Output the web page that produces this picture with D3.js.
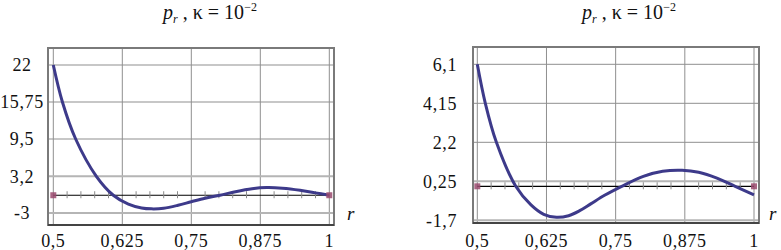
<!DOCTYPE html>
<html>
<head>
<meta charset="utf-8">
<script src="https://cdn.jsdelivr.net/npm/d3@7"></script>
<style>
  body { margin: 0; background: #fff; }
  text { font-family: "Liberation Serif", "Times New Roman", serif; fill: #111; }
  .tick-label { font-size: 18px; letter-spacing: 0.6px; }
</style>
</head>
<body>
<svg id="chart" width="781" height="250"></svg>
<script>
// data
var xTicks = [0.5, 0.625, 0.75, 0.875, 1];
var xMinor = [0.525, 0.55, 0.575, 0.6, 0.65, 0.675, 0.7, 0.725, 0.775, 0.8, 0.825, 0.85, 0.9, 0.925, 0.95, 0.975];

var yTicksLeft = [-3, 3.2, 9.5, 15.75, 22];
var rLeft = [0.5, 0.5165, 0.5405, 0.578, 0.6087, 0.636, 0.66, 0.678, 0.70, 0.726, 0.75, 0.775, 0.802, 0.83, 0.86, 0.8866, 0.915, 0.947, 0.975, 1.0];
var pLeft = [22, 15.75, 9.5, 3.2, 0, -1.5, -2.15, -2.3, -2.2, -1.7, -1.1, -0.5, 0, 0.6, 1.1, 1.3, 1.2, 0.85, 0.4, 0];

var yTicksRight = [-1.7, 0.25, 2.2, 4.15, 6.1];
var rRight = [0.5, 0.5145, 0.5345, 0.5695, 0.597, 0.62, 0.643, 0.665, 0.685, 0.705, 0.73, 0.761, 0.8, 0.835, 0.87, 0.9, 0.933, 0.966, 1.0];
var pRight = [6.1, 4.15, 2.2, 0, -0.93, -1.4, -1.55, -1.47, -1.22, -0.88, -0.45, 0, 0.5, 0.75, 0.8, 0.7, 0.41, 0, -0.43];

var endPoints = [0.5, 1];

var svg = d3.select("#chart");
var fmt = function(d) { return String(d).replace(".", ","); };

var panel = function(cfg) {
    var x = d3.scaleLinear().domain([0.5, 1]).range(cfg.xr);
    var y = d3.scaleLinear().domain([cfg.yt[0], cfg.yt[cfg.yt.length - 1]]).range(cfg.yr);
    var f = cfg.frame; // left, top, right, bottom
    var g = svg.append("g");

    // grid
    g.selectAll(".vgrid").data(xTicks).enter().append("line")
        .attr("x1", function(d) { return x(d); }).attr("x2", function(d) { return x(d); })
        .attr("y1", f[1]).attr("y2", f[3])
        .attr("stroke", "#8f8f8f").attr("stroke-width", 1);
    g.selectAll(".hgrid").data(cfg.yt).enter().append("line")
        .attr("x1", f[0]).attr("x2", f[2])
        .attr("y1", function(d) { return y(d); }).attr("y2", function(d) { return y(d); })
        .attr("stroke", function(d, i) { return i < 2 ? "#b5b5b5" : "#8f8f8f"; })
        .attr("stroke-width", function(d, i) { return i < 2 ? 2 : 1; });

    // frame
    g.append("rect")
        .attr("x", f[0]).attr("y", f[1])
        .attr("width", f[2] - f[0]).attr("height", f[3] - f[1])
        .attr("fill", "none").attr("stroke", "#7a7a7a").attr("stroke-width", 2);
    g.append("line")
        .attr("x1", f[0]).attr("x2", f[2]).attr("y1", f[3]).attr("y2", f[3])
        .attr("stroke", "#333").attr("stroke-width", 1.5);

    // zero axis with minor ticks
    g.append("line")
        .attr("x1", x(0.5)).attr("x2", x(1)).attr("y1", y(0)).attr("y2", y(0))
        .attr("stroke", "#000").attr("stroke-width", 1.2);
    g.selectAll(".minor").data(xMinor).enter().append("line")
        .attr("x1", function(d) { return x(d); }).attr("x2", function(d) { return x(d); })
        .attr("y1", y(0) - 4).attr("y2", y(0) + 3)
        .attr("stroke", "#8a8a8a").attr("stroke-width", 1);

    // curve
    var line = d3.line()
        .x(function(d) { return x(d[0]); })
        .y(function(d) { return y(d[1]); })
        .curve(d3.curveCatmullRom.alpha(0.5));
    g.append("path")
        .datum(d3.zip(cfg.r, cfg.p))
        .attr("d", line)
        .attr("fill", "none")
        .attr("stroke", "#3d3a8a")
        .attr("stroke-width", 3);

    // end markers
    g.selectAll(".mark").data(endPoints).enter().append("rect")
        .attr("x", function(d) { return x(d) - 3; })
        .attr("y", y(0) - 3)
        .attr("width", 6).attr("height", 6)
        .attr("fill", "#9a4a6e").attr("opacity", 0.85);

    // tick labels
    g.selectAll(".xl").data(xTicks).enter().append("text")
        .attr("class", "tick-label")
        .attr("x", function(d) { return x(d); })
        .attr("y", 247)
        .attr("text-anchor", "middle")
        .text(fmt);
    g.selectAll(".yl").data(cfg.yt).enter().append("text")
        .attr("class", "tick-label")
        .attr("x", cfg.ylabX)
        .attr("y", function(d) { return y(d); })
        .attr("dy", "0.35em")
        .attr("text-anchor", cfg.ylabAnchor)
        .text(fmt);

    // axis name
    g.append("text")
        .attr("x", cfg.rx).attr("y", 220)
        .attr("font-style", "italic").attr("font-size", 19)
        .text("r");

    // title
    var t = g.append("text")
        .attr("x", cfg.tx).attr("y", 19)
        .attr("text-anchor", "middle")
        .attr("font-size", 20);
    t.append("tspan").attr("font-style", "italic").text("p");
    t.append("tspan").attr("font-style", "italic").attr("font-size", 12).attr("dy", 4).text("r");
    t.append("tspan").attr("dy", -4).text(" ,  \u03ba = 10");
    t.append("tspan").attr("font-size", 12).attr("dy", -8).text("\u22122");
};

panel({
    xr: [53.3, 329.3], yt: yTicksLeft, yr: [213, 65],
    frame: [48, 48, 334, 225], r: rLeft, p: pLeft,
    ylabX: 22, ylabAnchor: "middle", rx: 347, tx: 210
});
panel({
    xr: [477.3, 754], yt: yTicksRight, yr: [220.3, 64.3],
    frame: [473, 47, 759, 223], r: rRight, p: pRight,
    ylabX: 457, ylabAnchor: "end", rx: 769, tx: 629
});
</script>
</body>
</html>
